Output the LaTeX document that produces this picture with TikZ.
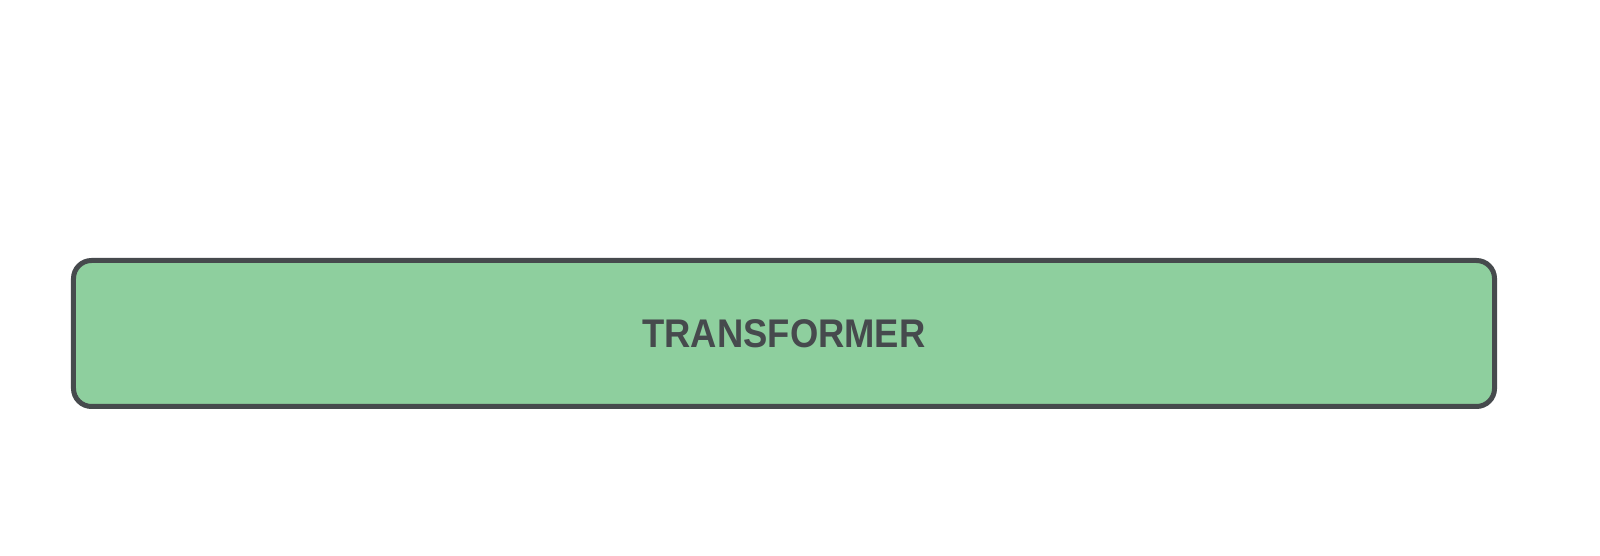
\documentclass[tikz,border=0pt]{standalone}
\usepackage{fontspec}
\newfontfamily\boxfont[FakeStretch=0.91]{Liberation Sans}
\definecolor{layergreen}{HTML}{8ECF9E}
\definecolor{edgegray}{HTML}{464A4D}
\tikzstyle{layer} = [draw=edgegray, line width=5bp, fill=layergreen, rounded corners=18bp, minimum width=1421bp, minimum height=146bp, text=edgegray, font=\boxfont\bfseries\fontsize{40bp}{48bp}\selectfont]

\begin{document}
\begin{tikzpicture}[x=1bp,y=1bp]
		\useasboundingbox (0,0) rectangle (1600,556);
		\node (transformer) [layer] at (784,222.5) {TRANSFORMER};
	\end{tikzpicture}
\end{document}
